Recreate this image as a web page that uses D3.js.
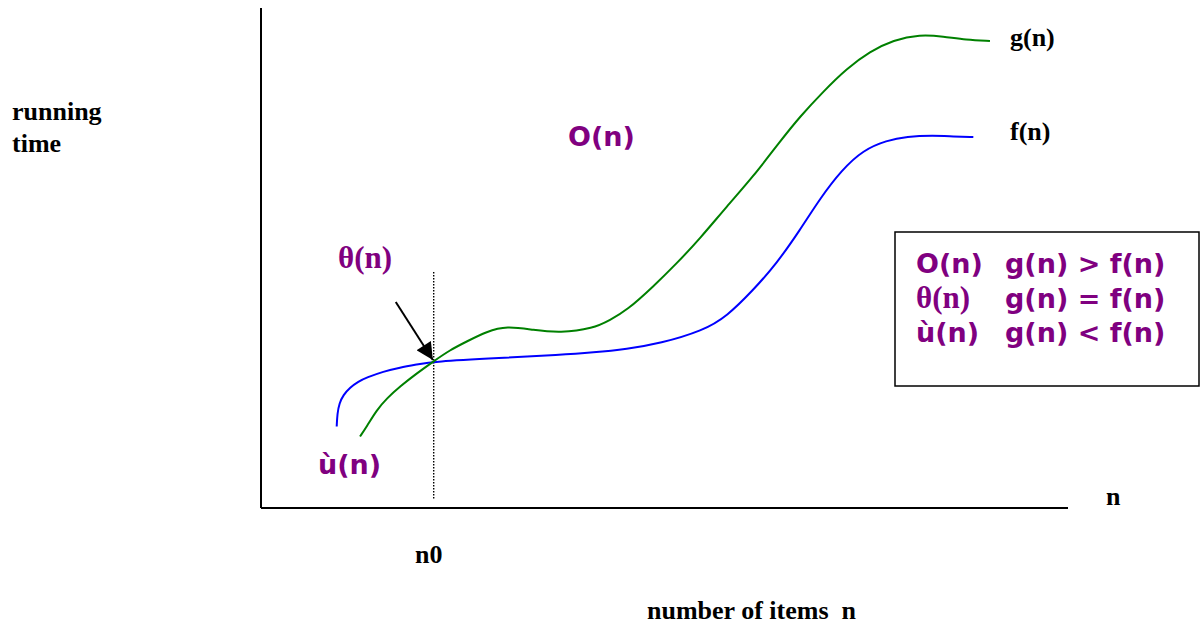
<!DOCTYPE html>
<html>
<head>
<meta charset="utf-8">
<script src="https://cdn.jsdelivr.net/npm/d3@7"></script>
<style>
  body { margin: 0; background: #fff; }
  .serif { font-family: "Liberation Serif", "Times New Roman", serif; font-weight: bold; }
  .sans { font-family: "DejaVu Sans", Verdana, sans-serif; font-weight: bold; }
</style>
</head>
<body>
<div id="vis"></div>
<script>
// curve data, n on x (0-100) and running time on y (0-100)
const fN = [9.38, 9.46, 9.70, 10.2, 11.03, 12.06, 13.1, 15.15, 17.22, 19.29, 21.35, 29.62, 37.05, 41.18, 45.32, 49.44, 54.81, 57.71, 61.0, 63.9, 66.79, 69.27, 71.96, 74.63, 77.53, 80.01, 83.31, 85.79, 88.27];
const fTime = [16.3, 18.9, 20.9, 22.6, 24.1, 25.3, 26.1, 27.3, 28.1, 28.7, 29.3, 30.0, 30.6, 31.1, 31.8, 32.9, 35.5, 38.3, 43.6, 48.9, 55.6, 61.9, 67.6, 71.6, 73.5, 74.3, 74.5, 74.3, 74.2];

const gN = [12.27, 13.1, 14.34, 15.58, 17.22, 19.29, 21.35, 23.42, 25.49, 27.97, 30.45, 33.74, 37.05, 41.18, 43.25, 45.32, 48.61, 51.51, 54.4, 57.71, 61.0, 64.31, 66.79, 69.68, 72.58, 75.46, 78.35, 81.66, 84.55, 87.36, 90.33];
const gTime = [14.3, 16.3, 19.6, 21.9, 24.3, 26.9, 29.3, 31.6, 33.3, 35.3, 36.4, 35.6, 35.0, 35.9, 37.6, 39.5, 44.3, 48.9, 53.9, 60.3, 66.3, 73.3, 78.3, 83.3, 87.9, 91.3, 93.6, 94.7, 94.3, 93.6, 93.4];

const n0 = 21.4;
const n0Span = [1.8, 47.2];
const arrowFrom = [16.7, 41.2];
const arrowTo = [21.3, 29.6];

const legendRows = [
  {sym: "O(n)", rel: "g(n) > f(n)", serif: false},
  {sym: "θ(n)", rel: "g(n) = f(n)", serif: true},
  {sym: "ù(n)", rel: "g(n) < f(n)", serif: false}
];

const W = 1202, H = 624;
const purple = "#800080";

const svg = d3.select("#vis").append("svg")
  .attr("width", W)
  .attr("height", H);

const x = d3.scaleLinear().domain([0, 100]).range([261, 1068]);
const y = d3.scaleLinear().domain([0, 100]).range([508, 8]);

// arrow marker
svg.append("defs").append("marker")
  .attr("id", "head")
  .attr("viewBox", "0 0 10 10")
  .attr("refX", 10).attr("refY", 5)
  .attr("markerWidth", 19).attr("markerHeight", 17)
  .attr("markerUnits", "userSpaceOnUse")
  .attr("orient", "auto")
  .append("path").attr("d", "M0,0L10,5L0,10Z").attr("fill", "#000");

// axes (plain lines, no ticks)
svg.append("line")
  .attr("x1", x(0)).attr("x2", x(0))
  .attr("y1", y(100)).attr("y2", y(0))
  .attr("stroke", "#000").attr("stroke-width", 2);
svg.append("line")
  .attr("x1", x(0)).attr("x2", x(100))
  .attr("y1", y(0)).attr("y2", y(0))
  .attr("stroke", "#000").attr("stroke-width", 2);

// n0 dotted line
svg.append("line")
  .attr("x1", x(n0)).attr("x2", x(n0))
  .attr("y1", y(n0Span[1])).attr("y2", y(n0Span[0]))
  .attr("stroke", "#000").attr("stroke-width", 1.4)
  .attr("stroke-dasharray", "1.5,1.5");

const line = d3.line()
  .x(d => x(d[0]))
  .y(d => y(d[1]))
  .curve(d3.curveBasis);

svg.append("path")
  .datum(fN.map((v, i) => [v, fTime[i]]))
  .attr("d", line)
  .attr("fill", "none")
  .attr("stroke", "#0000ff")
  .attr("stroke-width", 2);

svg.append("path")
  .datum(gN.map((v, i) => [v, gTime[i]]))
  .attr("d", line)
  .attr("fill", "none")
  .attr("stroke", "#008000")
  .attr("stroke-width", 2);

// arrow to crossing point
svg.append("line")
  .attr("x1", x(arrowFrom[0])).attr("y1", y(arrowFrom[1]))
  .attr("x2", x(arrowTo[0])).attr("y2", y(arrowTo[1]))
  .attr("stroke", "#000").attr("stroke-width", 2)
  .attr("marker-end", "url(#head)");

// black serif labels
const labels = [
  {t: "running", x: 12, y: 120},
  {t: "time", x: 12, y: 152},
  {t: "g(n)", x: 1010, y: 46},
  {t: "f(n)", x: 1010, y: 140},
  {t: "n", x: 1106, y: 505},
  {t: "n0", x: 415, y: 563},
  {t: "number of items  n", x: 647, y: 619}
];
svg.selectAll(".lbl").data(labels).enter().append("text")
  .attr("class", "lbl serif")
  .attr("x", d => d.x).attr("y", d => d.y)
  .style("font-size", "26px")
  .style("white-space", "pre")
  .attr("xml:space", "preserve")
  .text(d => d.t);

// purple notation labels on the chart
svg.append("text").attr("class", "sans")
  .attr("x", 568).attr("y", 146)
  .style("font-size", "27px").attr("fill", purple)
  .text("O(n)");
svg.append("text").attr("class", "serif")
  .attr("x", 338).attr("y", 268)
  .style("font-size", "31px").attr("fill", purple)
  .text("θ(n)");
svg.append("text").attr("class", "sans")
  .attr("x", 318).attr("y", 474)
  .style("font-size", "27px").attr("fill", purple)
  .text("ù(n)");

// legend box
svg.append("rect")
  .attr("x", 895).attr("y", 232)
  .attr("width", 304).attr("height", 154)
  .attr("fill", "#fff")
  .attr("stroke", "#000").attr("stroke-width", 1.5);

const rowY = [273, 308, 342];
const rows = svg.selectAll(".row").data(legendRows).enter().append("g")
  .attr("class", "row");
rows.append("text")
  .attr("class", d => d.serif ? "serif" : "sans")
  .attr("x", 916).attr("y", (d, i) => rowY[i])
  .style("font-size", d => d.serif ? "31px" : "27px")
  .attr("fill", purple)
  .text(d => d.sym);
rows.append("text")
  .attr("class", "sans")
  .attr("x", 1005).attr("y", (d, i) => rowY[i])
  .style("font-size", "27px")
  .attr("fill", purple)
  .style("white-space", "pre")
  .attr("xml:space", "preserve")
  .text(d => d.rel);
</script>
</body>
</html>
